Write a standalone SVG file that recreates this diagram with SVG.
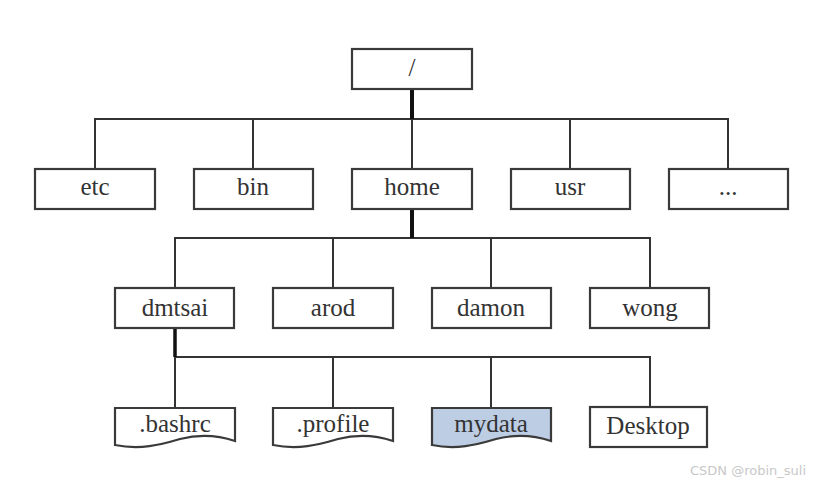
<svg xmlns="http://www.w3.org/2000/svg" width="821" height="487" viewBox="0 0 821 487">
<style>
.box{fill:#fff;stroke:#3a3a3a;stroke-width:2.2}
.sel{fill:#bccde4;stroke:#3a3a3a;stroke-width:2.2}
.t{font-family:'Liberation Serif','DejaVu Serif',serif;font-size:25px;fill:#333;text-anchor:middle}
.ln{fill:none;stroke:#333;stroke-width:2}
.thick{fill:none;stroke:#111;stroke-width:4}
.wm{font-family:'DejaVu Sans','Liberation Sans',sans-serif;font-size:13px;fill:#c8c8c8}
</style>
<rect width="821" height="487" fill="#fff"/>
<g id="connectors">
<path class="ln" d="M95,169 V119 H728 V169 M253,119 V169 M570,119 V169 M412,119 V169"/>
<path class="thick" d="M412,89 V119"/>
<path class="ln" d="M175,288 V238 H650 V288 M333,238 V288 M491,238 V288"/>
<path class="thick" d="M412,209 V238"/>
<path class="ln" d="M175,408 V357 H650 V408 M333,357 V408 M491,357 V408"/>
<path class="thick" d="M175,328 V357" style="stroke-width:3.5"/>
</g>
<g id="root"><rect class="box" x="352" y="49" width="120" height="40"/><text class="t" x="412" y="76">/</text></g>
<g id="etc"><rect class="box" x="35" y="169" width="120" height="40"/><text class="t" x="95" y="195">etc</text></g>
<g id="bin"><rect class="box" x="194" y="169" width="119" height="40"/><text class="t" x="253" y="195">bin</text></g>
<g id="home"><rect class="box" x="352" y="169" width="120" height="40"/><text class="t" x="412" y="195">home</text></g>
<g id="usr"><rect class="box" x="511" y="169" width="119" height="40"/><text class="t" x="570" y="195">usr</text></g>
<g id="more"><rect class="box" x="669" y="169" width="119" height="40"/><text class="t" x="728" y="195">...</text></g>
<g id="dmtsai"><rect class="box" x="115" y="288" width="119" height="40"/><text class="t" x="175" y="316">dmtsai</text></g>
<g id="arod"><rect class="box" x="273" y="288" width="120" height="40"/><text class="t" x="333" y="316">arod</text></g>
<g id="damon"><rect class="box" x="432" y="288" width="119" height="40"/><text class="t" x="491" y="316">damon</text></g>
<g id="wong"><rect class="box" x="590" y="288" width="119" height="40"/><text class="t" x="650" y="316">wong</text></g>
<g id="bashrc"><path class="box" d="M115,408 H235 V441 C220,436 200,434 180,439 C160,445 140,450 115,445 Z"/><text class="t" x="175" y="432">.bashrc</text></g>
<g id="profile"><path class="box" d="M273,408 H393 V441 C378,436 358,434 338,439 C318,445 298,450 273,445 Z"/><text class="t" x="333" y="432">.profile</text></g>
<g id="mydata"><path class="sel" d="M432,408 H551 V441 C536,436 516,434 496,439 C476,445 456,450 432,445 Z"/><text class="t" x="491" y="432">mydata</text></g>
<g id="Desktop"><rect class="box" x="590" y="407" width="117" height="40"/><text class="t" x="648" y="434">Desktop</text></g>
<text class="wm" x="690" y="475">CSDN @robin_suli</text>
</svg>
